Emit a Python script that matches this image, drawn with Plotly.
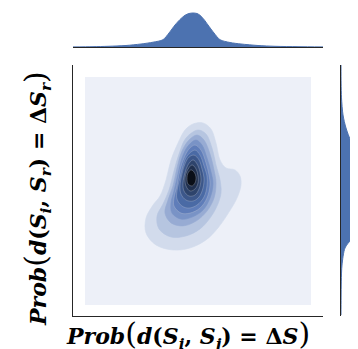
import plotly.graph_objects as go

# extent of the KDE evaluation grid (lowest filled level)
grid_x = [0.048, 0.952]
grid_y = [0.044, 0.952]

# contour levels of the 2D density, outer -> inner
lvl1_x = [0.480, 0.520, 0.552, 0.572, 0.588, 0.612, 0.648, 0.668, 0.672, 0.656, 0.624, 0.580, 0.532, 0.468, 0.400, 0.332, 0.292, 0.292, 0.320, 0.348, 0.372, 0.392, 0.420, 0.448]
lvl1_y = [0.765, 0.769, 0.745, 0.689, 0.622, 0.590, 0.582, 0.558, 0.522, 0.470, 0.414, 0.351, 0.303, 0.271, 0.263, 0.283, 0.331, 0.390, 0.442, 0.478, 0.542, 0.622, 0.689, 0.741]
lvl2_x = [0.500, 0.532, 0.556, 0.572, 0.588, 0.592, 0.576, 0.548, 0.508, 0.452, 0.392, 0.344, 0.336, 0.360, 0.384, 0.404, 0.424, 0.452]
lvl2_y = [0.741, 0.725, 0.669, 0.602, 0.542, 0.490, 0.438, 0.390, 0.347, 0.319, 0.315, 0.347, 0.398, 0.446, 0.502, 0.578, 0.645, 0.709]
lvl3_x = [0.496, 0.524, 0.548, 0.564, 0.572, 0.564, 0.536, 0.492, 0.440, 0.392, 0.368, 0.380, 0.400, 0.416, 0.436, 0.464]
lvl3_y = [0.721, 0.701, 0.645, 0.582, 0.530, 0.470, 0.418, 0.378, 0.359, 0.371, 0.410, 0.462, 0.518, 0.590, 0.657, 0.701]
lvl4_x = [0.492, 0.516, 0.536, 0.552, 0.560, 0.548, 0.520, 0.476, 0.432, 0.396, 0.392, 0.404, 0.420, 0.436, 0.460]
lvl4_y = [0.701, 0.681, 0.629, 0.574, 0.526, 0.470, 0.422, 0.394, 0.386, 0.410, 0.450, 0.498, 0.566, 0.629, 0.677]
lvl5_x = [0.488, 0.512, 0.532, 0.544, 0.548, 0.536, 0.508, 0.468, 0.432, 0.404, 0.404, 0.416, 0.428, 0.444, 0.464]
lvl5_y = [0.681, 0.661, 0.610, 0.562, 0.522, 0.470, 0.430, 0.410, 0.410, 0.438, 0.470, 0.518, 0.582, 0.629, 0.665]
lvl6_x = [0.488, 0.508, 0.524, 0.536, 0.536, 0.524, 0.496, 0.464, 0.436, 0.416, 0.416, 0.428, 0.440, 0.456]
lvl6_y = [0.661, 0.641, 0.598, 0.558, 0.518, 0.474, 0.442, 0.430, 0.438, 0.466, 0.498, 0.550, 0.598, 0.637]
lvl7_x = [0.484, 0.504, 0.516, 0.524, 0.520, 0.504, 0.480, 0.452, 0.432, 0.428, 0.436, 0.448, 0.464]
lvl7_y = [0.641, 0.622, 0.586, 0.550, 0.510, 0.474, 0.458, 0.462, 0.486, 0.518, 0.566, 0.606, 0.633]
lvl8_x = [0.480, 0.496, 0.508, 0.512, 0.504, 0.488, 0.464, 0.444, 0.440, 0.448, 0.460]
lvl8_y = [0.622, 0.606, 0.574, 0.542, 0.506, 0.482, 0.478, 0.498, 0.530, 0.570, 0.602]
lvl9_x = [0.476, 0.492, 0.500, 0.500, 0.488, 0.468, 0.452, 0.448, 0.456]
lvl9_y = [0.602, 0.586, 0.558, 0.530, 0.506, 0.498, 0.518, 0.550, 0.578]
lvl10_x = [0.472, 0.484, 0.492, 0.488, 0.476, 0.460, 0.456, 0.460]
lvl10_y = [0.582, 0.574, 0.554, 0.530, 0.518, 0.526, 0.550, 0.570]

# marginal densities
top_x = [0.000, 0.080, 0.140, 0.212, 0.272, 0.320, 0.360, 0.384, 0.408, 0.428, 0.448, 0.464, 0.480,
         0.496, 0.508, 0.524, 0.540, 0.564, 0.588, 0.628, 0.672, 0.740, 0.808, 0.900, 1.000]
top_d = [0.01, 0.03, 0.07, 0.15, 0.30, 0.48, 0.73, 1.40, 2.20, 2.75, 3.17, 3.35, 3.40,
         3.35, 3.17, 2.75, 2.20, 1.40, 0.73, 0.45, 0.30, 0.15, 0.07, 0.03, 0.01]
right_y = [1.000, 0.928, 0.869, 0.801, 0.749, 0.697, 0.657, 0.610, 0.550, 0.490, 0.430,
           0.359, 0.331, 0.303, 0.271, 0.203, 0.139, 0.072, 0.004]
right_d = [0.0, 0.01, 0.05, 0.2, 0.5, 1.0, 1.7, 2.5, 3.3, 3.7, 3.4,
           2.5, 1.9, 1.0, 0.4, 0.1, 0.03, 0.01, 0.0]

levels = [(lvl1_x, lvl1_y), (lvl2_x, lvl2_y), (lvl3_x, lvl3_y), (lvl4_x, lvl4_y), (lvl5_x, lvl5_y),
          (lvl6_x, lvl6_y), (lvl7_x, lvl7_y), (lvl8_x, lvl8_y), (lvl9_x, lvl9_y), (lvl10_x, lvl10_y)]
colors = ['#d2dbec', '#b6c5e0', '#97abd3', '#7993c6', '#5f7db9',
          '#4a6aa5', '#3c578a', '#2e446c', '#20304e', '#0a0f18']
blue = '#4c72b0'

fig = go.Figure()

fig.add_trace(go.Scatter(x=[grid_x[0], grid_x[1], grid_x[1], grid_x[0], grid_x[0]],
                         y=[grid_y[0], grid_y[0], grid_y[1], grid_y[1], grid_y[0]],
                         fill='toself', fillcolor='#edf0f8', mode='lines', line=dict(width=0),
                         hoverinfo='skip', showlegend=False))
for i, ((lx, ly), c) in enumerate(zip(levels, colors)):
    edge = 'rgba(190,198,212,0.55)' if i >= 4 else c
    fig.add_trace(go.Scatter(x=lx + lx[:1], y=ly + ly[:1], fill='toself', fillcolor=c, mode='lines',
                             line=dict(color=edge, width=0.6, shape='spline', smoothing=1.0),
                             hoverinfo='skip', showlegend=False))

fig.add_trace(go.Scatter(x=top_x, y=top_d, xaxis='x2', yaxis='y2', fill='tozeroy', fillcolor=blue,
                         mode='lines', line=dict(color=blue, width=1, shape='spline', smoothing=0.8),
                         showlegend=False))
fig.add_trace(go.Scatter(x=right_d, y=right_y, xaxis='x3', yaxis='y3', fill='tozerox', fillcolor=blue,
                         mode='lines', line=dict(color=blue, width=1, shape='spline', smoothing=0.8),
                         showlegend=False))

W, H = 358, 349
spine = dict(showline=True, linecolor='#262626', linewidth=1.25, showticklabels=False,
             ticks='', showgrid=False, zeroline=False)
hidden = dict(visible=False, showgrid=False, zeroline=False)
main_x = [65 / W, 315 / W]
main_y = [(H - 308) / H, (H - 57) / H]

fig.update_layout(
    width=W, height=H, margin=dict(l=0, r=0, t=0, b=0),
    plot_bgcolor='white', paper_bgcolor='white',
    xaxis=dict(domain=main_x, range=[0, 1], anchor='y', **spine),
    yaxis=dict(domain=main_y, range=[0, 1], anchor='x', **spine),
    xaxis2=dict(domain=main_x, range=[0, 1], anchor='y2', **spine),
    yaxis2=dict(domain=[(H - 39) / H, 1.0], range=[0, 3.9], anchor='x2', **hidden),
    xaxis3=dict(domain=[333 / W, 1.0], range=[0, 2.5], anchor='y3', **hidden),
    yaxis3=dict(domain=main_y, range=[0, 1], anchor='x3', **spine),
)

font = dict(family='DejaVu Serif', size=22, color='black')
big = '<span style="font-size:30px">'
xlabel = ('<b><i>Prob</i></b>' + big + '(</span><b><i>d</i>(<i>S</i><sub><i>i</i></sub>, '
          '<i>S</i><sub><i>j</i></sub>) = Δ<i>S</i></b>' + big + ')</span>')
ylabel = ('<b><i>Prob</i></b>' + big + '(</span><b><i>d</i>(<i>S</i><sub><i>i</i></sub>, '
          '<i>S</i><sub><i>r</i></sub>) = Δ<i>S</i><sub><i>r</i></sub></b>' + big + ')</span>')
fig.add_annotation(text=xlabel, xref='paper', yref='paper', x=180 / W, y=(H - 326) / H,
                   xanchor='center', yanchor='middle', showarrow=False, font=font)
fig.add_annotation(text=ylabel, xref='paper', yref='paper', x=28 / W, y=(H - 191) / H,
                   xanchor='center', yanchor='middle', showarrow=False, font=font, textangle=-90)

fig.write_html("out.html")
